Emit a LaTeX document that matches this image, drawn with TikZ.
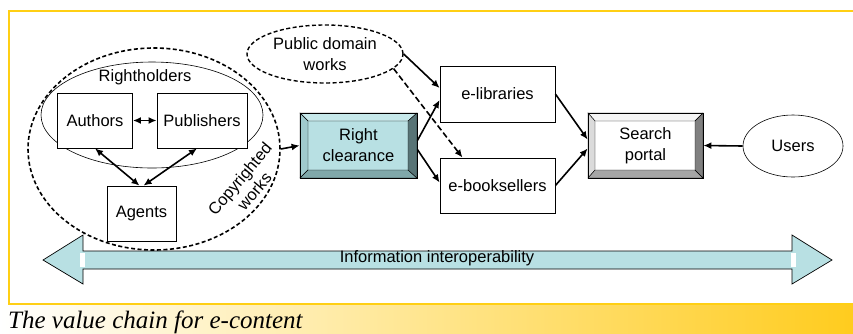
\documentclass[tikz,border=0pt]{standalone}
\usepackage{fontspec}
\setmainfont{Liberation Sans}
\newfontfamily\capfont{Liberation Serif}
\usetikzlibrary{shapes.geometric,arrows.meta}

\definecolor{frameyellow}{RGB}{255,207,20}
\definecolor{capyellow}{RGB}{255,204,30}
\definecolor{tealface}{RGB}{184,224,227}
\definecolor{tealtop}{RGB}{198,232,234}
\definecolor{tealleft}{RGB}{160,202,205}
\definecolor{tealbot}{RGB}{128,168,170}
\definecolor{tealright}{RGB}{88,116,118}

\tikzset{
  box/.style={draw, line width=0.8pt, minimum height=55pt, inner sep=0pt,
    font=\fontsize{16.5}{21}\selectfont, align=center},
  oval/.style={ellipse, draw, line width=0.6pt, inner sep=0pt,
    font=\fontsize{16.5}{21}\selectfont, align=center},
  dashoval/.style={oval, line width=1.6pt, dash pattern=on 4pt off 2.5pt},
  flow/.style={-{Latex[length=8pt,width=7pt]}, line width=1.6pt},
  twoway/.style={flow, {Latex[length=8pt,width=7pt]}-{Latex[length=8pt,width=7pt]}},
}

\begin{document}
\begin{tikzpicture}[x=1pt, y=-1pt]
    \useasboundingbox (0,0) rectangle (853,333);

    % frame and caption band
    \shade[left color=white, right color=capyellow] (0,305) rectangle (853,333);
    \draw[frameyellow, line width=2pt] (853,11) -- (9,11) -- (9,304) -- (853,304);
    \node[anchor=base west, inner sep=0pt, font=\capfont\itshape\fontsize{25}{25}\selectfont] (cap) at (8,328) {The value chain for e-content};

    % information bar
    \draw[fill=tealface, line width=0.7pt] (43,260) -- (83,235) -- (83,251) -- (792,251) -- (792,235) -- (832,260)
        -- (792,284) -- (792,269) -- (83,269) -- (83,284) -- cycle;
    \fill[white] (80,253) rectangle (85,267);
    \fill[white] (791,253) rectangle (796,267);
    \node[font=\fontsize{16.5}{18}\selectfont, inner sep=0pt] (info) at (437,258) {Information interoperability};

    % rightholders
    \node[dashoval, minimum width=252pt, minimum height=202pt] (cw) at (154,149) {};
    \node[oval, minimum width=222pt, minimum height=106pt] (rh) at (152,115) {};
    \node[font=\fontsize{16.5}{21}\selectfont, inner sep=0pt] (rhl) at (145,77) {Rightholders};
    \node[box, fill=white, minimum width=75pt] (au) at (95,120.5) {Authors};
    \node[box, fill=white, minimum width=90pt] (pu) at (202,120.5) {Publishers};
    \node[box, fill=white, minimum width=69pt] (ag) at (141.5,213.5) {Agents};
    \node[rotate=50, align=center, font=\fontsize{16.5}{19}\selectfont, inner sep=0pt] (cwl) at (247,185) {Copyrighted\\works};

    \draw[twoway] (au) -- (pu);
    \draw[twoway] ([xshift=-2pt]ag.north) -- (au.south);
    \draw[twoway] ([xshift=2pt]ag.north) -- ([xshift=-5pt]pu.south);

    % right clearance
    \fill[tealface] (308,121) rectangle (408,170);
    \filldraw[tealtop, draw=black, line width=0.4pt] (300,113) -- (417,113) -- (408,121) -- (308,121) -- cycle;
    \filldraw[tealleft, draw=black, line width=0.4pt] (300,113) -- (308,121) -- (308,170) -- (300,178) -- cycle;
    \filldraw[tealbot, draw=black, line width=0.4pt] (300,178) -- (308,170) -- (408,170) -- (417,178) -- cycle;
    \filldraw[tealright, draw=black, line width=0.4pt] (417,113) -- (408,121) -- (408,170) -- (417,178) -- cycle;
    \node[box, minimum width=117pt, minimum height=65pt] (rc) at (358.5,145.5) {Right\\clearance};

    % search portal
    \filldraw[black!4, draw=black, line width=0.4pt] (588,113) -- (703,113) -- (695,121) -- (595,121) -- cycle;
    \filldraw[black!14, draw=black, line width=0.4pt] (588,113) -- (595,121) -- (595,170) -- (588,178) -- cycle;
    \filldraw[black!35, draw=black, line width=0.4pt] (588,178) -- (595,170) -- (695,170) -- (703,178) -- cycle;
    \filldraw[black!50, draw=black, line width=0.4pt] (703,113) -- (695,121) -- (695,170) -- (703,178) -- cycle;
    \node[box, minimum width=115pt, minimum height=65pt] (sp) at (645.5,145.5) {Search\\portal};

    % distribution
    \node[dashoval, line width=1.4pt, minimum width=156pt, minimum height=58pt] (pd) at (325,54) {Public domain\\works};
    \node[box, minimum width=115pt, minimum height=56pt] (el) at (497.5,94) {e-libraries};
    \node[box, minimum width=115pt] (eb) at (497.5,185.5) {e-booksellers};
    \node[oval, minimum width=100pt, minimum height=62pt] (us) at (793,146) {Users};

    \draw[flow] (cw.east) -- (rc.west);
    \draw[flow] ([yshift=5pt]rc.east) -- ([yshift=-6pt]el.west);
    \draw[flow] ([yshift=-4pt]rc.east) -- ([yshift=3pt]eb.west);
    \draw[flow] (pd.east) -- ([yshift=6pt]el.west);
    \draw[flow, dash pattern=on 6pt off 3pt] (pd.-12) -- ([xshift=-35pt]eb.north);
    \draw[flow] (el.east) -- ([yshift=6pt]sp.west);
    \draw[flow] (eb.east) -- ([yshift=-3pt]sp.west);
    \draw[flow] (us.west) -- (sp.east);
\end{tikzpicture}
\end{document}
